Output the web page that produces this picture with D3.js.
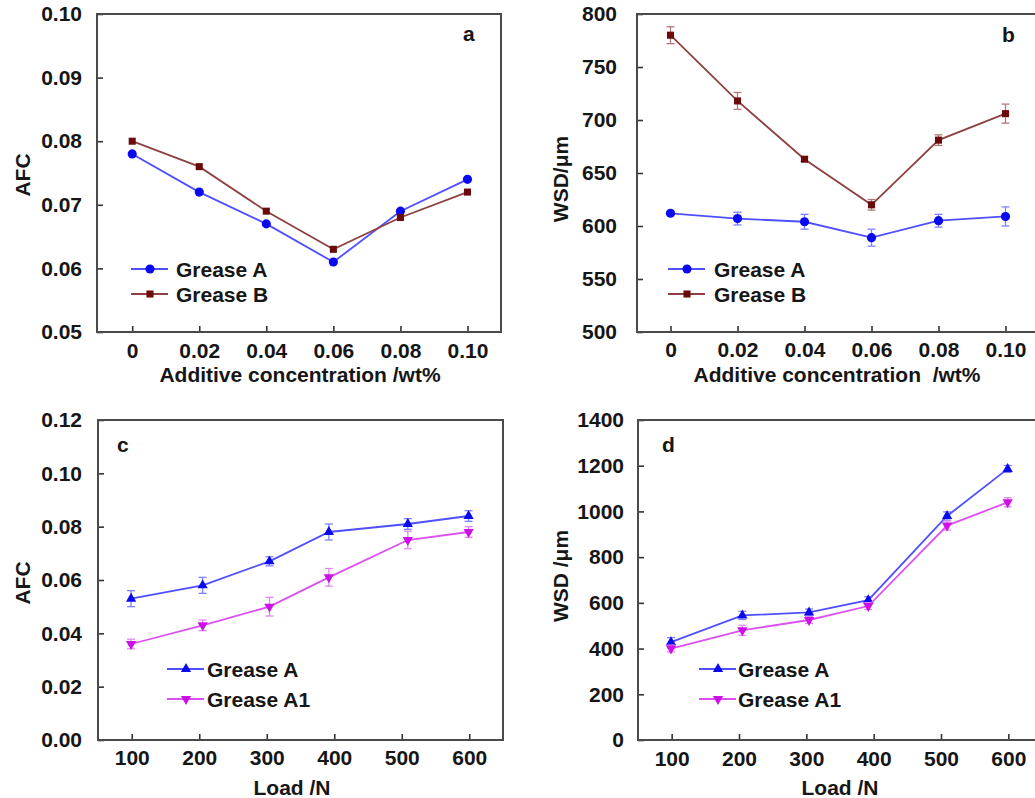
<!DOCTYPE html>
<html>
<head>
<meta charset="utf-8">
<script src="https://cdn.jsdelivr.net/npm/d3@7"></script>
<style>
  html, body { margin: 0; padding: 0; background: #fff; }
  svg { display: block; }
  text { font-family: "Liberation Sans", Arial, sans-serif; font-weight: bold; fill: #161616; }
</style>
</head>
<body>
<svg id="fig" width="1035" height="798"></svg>
<script>
// Additive concentration series (panels a, b)
const concentration = [0, 0.02, 0.04, 0.06, 0.08, 0.10];
const concTickLabels = ["0", "0.02", "0.04", "0.06", "0.08", "0.10"];
const afcGreaseA = [0.078, 0.072, 0.067, 0.061, 0.069, 0.074];
const afcGreaseB = [0.080, 0.076, 0.069, 0.063, 0.068, 0.072];
const wsdGreaseA = [612, 607, 604, 589, 605, 609];
const wsdGreaseAErr = [2, 6, 7, 8, 6, 9];
const wsdGreaseB = [780, 718, 663, 620, 681, 706];
const wsdGreaseBErr = [8, 8, 2, 5, 5, 9];

// Load series (panels c, d)
const load = [99, 205, 304, 392, 509, 599];
const loadTicks = [100, 200, 300, 400, 500, 600];
const afcLoadA = [0.053, 0.058, 0.067, 0.078, 0.081, 0.084];
const afcLoadAErr = [0.003, 0.003, 0.0017, 0.003, 0.002, 0.002];
const afcLoadA1 = [0.036, 0.043, 0.050, 0.061, 0.075, 0.078];
const afcLoadA1Err = [0.0018, 0.002, 0.0035, 0.0033, 0.0033, 0.002];
const wsdLoadA = [428, 545, 558, 612, 980, 1186];
const wsdLoadAErr = [20, 18, 15, 15, 18, 15];
const wsdLoadA1 = [400, 480, 525, 586, 938, 1040];
const wsdLoadA1Err = [15, 22, 15, 15, 20, 20];

// Y tick values per panel
const afcTicksA = [0.05, 0.06, 0.07, 0.08, 0.09, 0.10];
const wsdTicksB = [500, 550, 600, 650, 700, 750, 800];
const afcTicksC = [0, 0.02, 0.04, 0.06, 0.08, 0.10, 0.12];
const wsdTicksD = [0, 200, 400, 600, 800, 1000, 1200, 1400];

// Series styles
const styleA  = { name: "Grease A",  line: "#4f4fff", fill: "#0a0af0", err: "#8080ff", sym: "circle" };
const styleB  = { name: "Grease B",  line: "#8e4141", fill: "#6a0a0a", err: "#b07a7a", sym: "square" };
const styleTA = { name: "Grease A",  line: "#4f4fff", fill: "#0a0af0", err: "#8080ff", sym: "tri" };
const styleA1 = { name: "Grease A1", line: "#dc50f2", fill: "#cc10e6", err: "#e088f0", sym: "triDown" };

const svg = d3.select("#fig");

function symbolPath(kind) {
  if (kind === "circle") return d3.symbol(d3.symbolCircle, 66)();
  if (kind === "square") return d3.symbol(d3.symbolSquare, 50)();
  return d3.symbol(d3.symbolTriangle, 46)();
}

function drawMarker(g, kind, x, y, color) {
  g.append("path")
    .attr("d", symbolPath(kind))
    .attr("transform", `translate(${x},${y})` + (kind === "triDown" ? " rotate(180)" : ""))
    .attr("fill", color);
}

function drawPanel(p) {
  const x = d3.scaleLinear().domain(p.xDomain).range([p.left, p.right]);
  const y = d3.scaleLinear().domain(p.yDomain).range([p.bottom, p.top]);
  const g = svg.append("g");

  // x axis with inward ticks
  g.append("g")
    .attr("transform", `translate(0,${p.bottom})`)
    .call(d3.axisBottom(x).tickValues(p.xTicks).tickFormat(p.xFormat)
      .tickSizeInner(-6).tickSizeOuter(0).tickPadding(p.xPad))
    .call(a => a.select(".domain").remove())
    .call(a => a.selectAll("line").attr("stroke", "#333").attr("stroke-width", 1.6))
    .call(a => a.selectAll("text").attr("font-size", 21).attr("fill", "#161616")
      .attr("font-family", null));

  // y axis with inward ticks
  g.append("g")
    .attr("transform", `translate(${p.left},0)`)
    .call(d3.axisLeft(y).tickValues(p.yTicks).tickFormat(p.yFormat)
      .tickSizeInner(-6).tickSizeOuter(0).tickPadding(p.yPad))
    .call(a => a.select(".domain").remove())
    .call(a => a.selectAll("line").attr("stroke", "#333").attr("stroke-width", 1.6))
    .call(a => a.selectAll("text").attr("font-size", 21).attr("fill", "#161616")
      .attr("font-family", null));

  // plot frame
  g.append("rect")
    .attr("x", p.left).attr("y", p.top)
    .attr("width", p.right - p.left).attr("height", p.bottom - p.top)
    .attr("fill", "none").attr("stroke", "#4a4a4a").attr("stroke-width", 2);

  // series
  p.series.forEach(s => {
    const pts = p.xValues.map((xv, i) => [xv, s.values[i], s.errors ? s.errors[i] : 0]);
    if (s.errors) {
      pts.forEach(([xv, yv, e]) => {
        const cx = x(xv);
        g.append("line").attr("x1", cx).attr("x2", cx).attr("y1", y(yv - e)).attr("y2", y(yv + e))
          .attr("stroke", s.style.err).attr("stroke-width", 1.3);
        [yv - e, yv + e].forEach(v => {
          g.append("line").attr("x1", cx - 4).attr("x2", cx + 4).attr("y1", y(v)).attr("y2", y(v))
            .attr("stroke", s.style.err).attr("stroke-width", 1.3);
        });
      });
    }
    g.append("path")
      .datum(pts)
      .attr("d", d3.line().x(d => x(d[0])).y(d => y(d[1])))
      .attr("fill", "none").attr("stroke", s.style.line).attr("stroke-width", 1.8);
    pts.forEach(([xv, yv]) => drawMarker(g, s.style.sym, x(xv), y(yv), s.style.fill));
  });

  // legend
  p.series.forEach((s, i) => {
    const ly = p.legend.y + i * p.legend.dy;
    g.append("line").attr("x1", p.legend.x).attr("x2", p.legend.x + 37)
      .attr("y1", ly).attr("y2", ly).attr("stroke", s.style.line).attr("stroke-width", 1.8);
    drawMarker(g, s.style.sym, p.legend.x + 19, ly, s.style.fill);
    g.append("text").attr("x", p.legend.x + p.legend.tx).attr("y", ly + 7.5)
      .attr("font-size", 21).text(s.style.name);
  });

  // axis titles
  g.append("text").attr("x", p.xTitle.x).attr("y", p.xTitle.y)
    .attr("text-anchor", "middle").attr("font-size", 21).style("white-space", "pre")
    .text(p.xTitle.text);
  g.append("text")
    .attr("transform", `translate(${p.yTitle.x},${p.yTitle.y}) rotate(-90)`)
    .attr("text-anchor", "middle").attr("font-size", 21)
    .text(p.yTitle.text);

  // panel letter
  g.append("text").attr("x", p.tag.x).attr("y", p.tag.y)
    .attr("font-size", 21).text(p.tag.text);
}

const fmt2 = d3.format(".2f");

drawPanel({
  left: 97, right: 501, top: 14, bottom: 332,
  xDomain: [-0.0105, 0.110], yDomain: [0.05, 0.10],
  xValues: concentration, xTicks: concentration,
  xFormat: (d, i) => concTickLabels[i], xPad: 11,
  yTicks: afcTicksA, yFormat: fmt2, yPad: 15,
  series: [{ style: styleA, values: afcGreaseA }, { style: styleB, values: afcGreaseB }],
  legend: { x: 131, y: 269, dy: 25, tx: 45 },
  xTitle: { x: 300, y: 382, text: "Additive concentration /wt%" },
  yTitle: { x: 30, y: 175, text: "AFC" },
  tag: { x: 463, y: 41, text: "a" }
});

drawPanel({
  left: 637, right: 1039, top: 14, bottom: 332,
  xDomain: [-0.01, 0.11], yDomain: [500, 800],
  xValues: concentration, xTicks: concentration,
  xFormat: (d, i) => concTickLabels[i], xPad: 10,
  yTicks: wsdTicksB, yFormat: d3.format("d"), yPad: 20,
  series: [{ style: styleA, values: wsdGreaseA, errors: wsdGreaseAErr },
           { style: styleB, values: wsdGreaseB, errors: wsdGreaseBErr }],
  legend: { x: 668, y: 269, dy: 25, tx: 46 },
  xTitle: { x: 837, y: 382, text: "Additive concentration  /wt%" },
  yTitle: { x: 568, y: 179, text: "WSD/μm" },
  tag: { x: 1002, y: 42, text: "b" }
});

drawPanel({
  left: 98, right: 503, top: 420, bottom: 740,
  xDomain: [50, 650], yDomain: [0, 0.12],
  xValues: load, xTicks: loadTicks,
  xFormat: d3.format("d"), xPad: 10,
  yTicks: afcTicksC, yFormat: fmt2, yPad: 16,
  series: [{ style: styleTA, values: afcLoadA, errors: afcLoadAErr },
           { style: styleA1, values: afcLoadA1, errors: afcLoadA1Err }],
  legend: { x: 167, y: 669, dy: 30, tx: 40 },
  xTitle: { x: 292, y: 795, text: "Load /N" },
  yTitle: { x: 30, y: 583, text: "AFC" },
  tag: { x: 117, y: 452, text: "c" }
});

drawPanel({
  left: 638, right: 1042, top: 420, bottom: 740,
  xDomain: [50, 650], yDomain: [0, 1400],
  xValues: load, xTicks: loadTicks,
  xFormat: d3.format("d"), xPad: 11,
  yTicks: wsdTicksD, yFormat: d3.format("d"), yPad: 14,
  series: [{ style: styleTA, values: wsdLoadA, errors: wsdLoadAErr },
           { style: styleA1, values: wsdLoadA1, errors: wsdLoadA1Err }],
  legend: { x: 699, y: 669, dy: 30, tx: 39 },
  xTitle: { x: 840, y: 795, text: "Load /N" },
  yTitle: { x: 568, y: 576, text: "WSD /μm" },
  tag: { x: 662, y: 452, text: "d" }
});
</script>
</body>
</html>
